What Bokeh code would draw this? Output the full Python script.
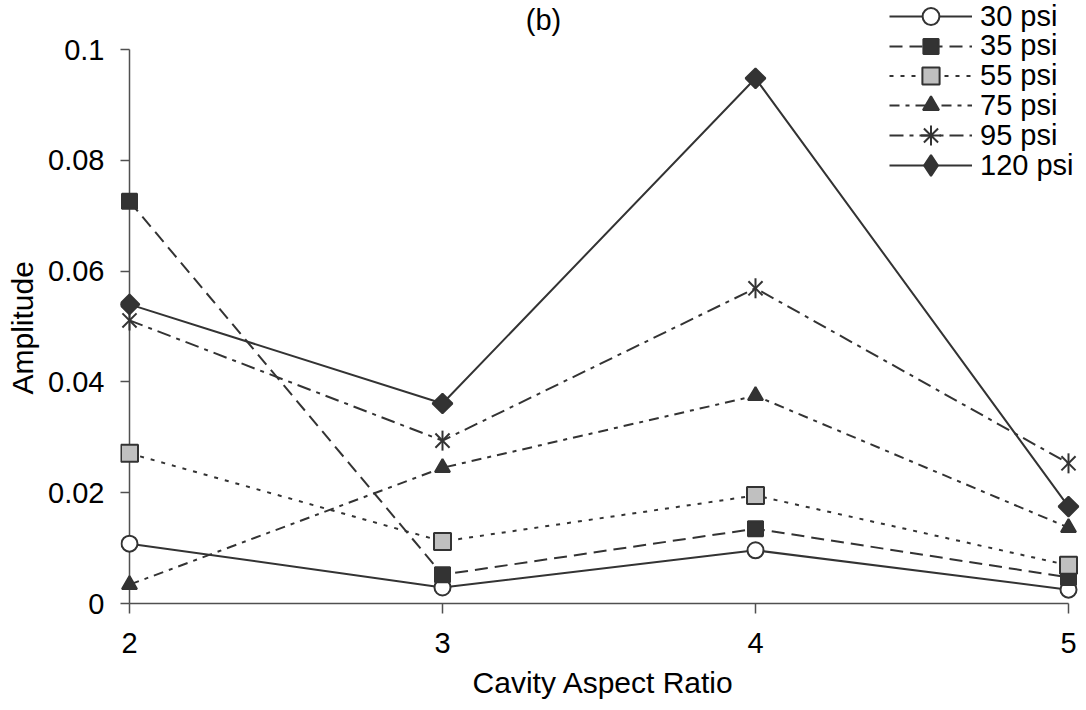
from bokeh.plotting import figure
from bokeh.models import (Range1d, FixedTicker, CustomJSTickFormatter, Legend, LegendItem,
                          Label, ColumnDataSource)
from bokeh.embed import file_html
from bokeh.resources import INLINE
import math

aspect_ratio = [2, 3, 4, 5]
psi_30 = [0.0108, 0.0029, 0.0096, 0.0025]
psi_35 = [0.0726, 0.0052, 0.0135, 0.0047]
psi_55 = [0.0271, 0.0112, 0.0195, 0.0069]
psi_75 = [0.0034, 0.0245, 0.0375, 0.0137]
psi_95 = [0.0511, 0.0294, 0.0569, 0.0253]
psi_120 = [0.0540, 0.0361, 0.0948, 0.0175]
series_labels = ["30 psi", "35 psi", "55 psi", "75 psi", "95 psi", "120 psi"]
y_ticks = [0, 0.02, 0.04, 0.06, 0.08, 0.1]
x_ticks = [2, 3, 4, 5]

FONT = "Liberation Sans"
INK = "#333333"
AX = "#505050"

W, H = 1086, 710
# axes geometry (pixels): x=2 at 129, x=5 at 1068; y=0 at 603, y=0.1 at 49
AX_L, AX_R, AX_B, AX_T = 129, 1068, 603, 49
FR_L, FR_R, FR_T, FR_B = 120, 1086, 0, 613   # plotting frame (room for markers/legend)
xs = (x_ticks[-1] - x_ticks[0]) / (AX_R - AX_L)
ys = (y_ticks[-1] - y_ticks[0]) / (AX_B - AX_T)

p = figure(width=W, height=H, output_backend="svg", toolbar_location=None,
           x_range=Range1d(x_ticks[0] - (AX_L - FR_L) * xs, x_ticks[-1] + (FR_R - AX_R) * xs),
           y_range=Range1d(y_ticks[0] - (FR_B - AX_B) * ys, y_ticks[-1] + (AX_T - FR_T) * ys),
           min_border_left=FR_L, min_border_right=W - FR_R,
           min_border_top=FR_T, min_border_bottom=H - FR_B)
p.outline_line_color = None
p.grid.visible = False
p.background_fill_color = "white"
p.border_fill_color = "white"

p.xaxis.bounds = (x_ticks[0], x_ticks[-1])
p.yaxis.bounds = (y_ticks[0], y_ticks[-1])
p.xaxis.ticker = FixedTicker(ticks=x_ticks)
p.yaxis.ticker = FixedTicker(ticks=y_ticks)
p.yaxis.formatter = CustomJSTickFormatter(code="""
if (tick == 0) { return '0'; }
var s = tick.toFixed(2);
if (s.endsWith('0')) { s = s.slice(0, -1); }
return s;
""")
for ax in (p.xaxis, p.yaxis):
    ax.axis_line_color = None
    ax.major_tick_line_color = AX
    ax.major_tick_line_width = 1.5
    ax.major_tick_out = 0
    ax.minor_tick_line_color = None
    ax.major_label_text_font = FONT
    ax.major_label_text_font_size = "29px"
    ax.major_label_text_color = "black"
    ax.axis_label_text_font = FONT
    ax.axis_label_text_font_size = "30px"
    ax.axis_label_text_font_style = "normal"
    ax.axis_label_text_color = "black"
p.yaxis.major_tick_in = AX_L - FR_L
p.xaxis.major_tick_in = FR_B - AX_B
p.xaxis.major_label_standoff = 19
p.yaxis.major_label_standoff = 16
p.xaxis.axis_label = "Cavity Aspect Ratio"
# trailing no-break spaces centre the label on the 0..0.1 axis instead of the taller frame
p.yaxis.axis_label = "Amplitude" + "\u00a0" * 5
p.xaxis.axis_label_standoff = 10
p.yaxis.axis_label_standoff = 6

# axis lines at x=2 and y=0
p.segment(x0=[x_ticks[0], x_ticks[0]], y0=[y_ticks[0], y_ticks[0]],
          x1=[x_ticks[0], x_ticks[-1]], y1=[y_ticks[-1], y_ticks[0]],
          line_color=AX, line_width=1.5)

# (values, dash, marker, fill, size, angle, legend glyph height)
styles = [
    (psi_30, "solid", "circle", "white", 16, 0, 42),
    (psi_35, "13 7", "square", INK, 15, 0, 38),
    (psi_55, "4 7", "square", "#c0c0c0", 17, 0, 43),
    (psi_75, "10 6 4 6", "triangle", INK, 15, 0, 40),
    (psi_95, "14 6 4 6", "star6", None, 20, 0, 50),
    (psi_120, "solid", "diamond4", INK, 14, math.pi / 4, 52),
]

row_centers = [16 + 29.8 * i for i in range(6)]
for (vals, dash, marker, fill, size, ang, gh), lab, rc in zip(styles, series_labels, row_centers):
    src = ColumnDataSource(dict(x=aspect_ratio, y=vals))
    r_line = p.line("x", "y", source=src, line_color=INK, line_width=2, line_dash=dash)
    rs = [r_line]
    if marker == "star6":
        r1 = p.scatter("x", "y", source=src, marker="x", size=size, line_color=INK,
                       line_width=2)
        p.scatter("x", "y", source=src, marker="dash", size=size, angle=math.pi / 2,
                  line_color=INK, line_width=2)
        # legend-only glyph (not drawn in the plot)
        r_leg = p.scatter("x", "y", source=src, marker="cross", size=size, line_color=INK,
                          line_width=2, visible=False)
        rs += [r1, r_leg]
    elif marker == "diamond4":
        p.scatter("x", "y", source=src, marker="square", size=size, angle=ang,
                  fill_color=fill, line_color=INK, line_width=2)
        r_leg = p.scatter("x", "y", source=src, marker="diamond", size=size,
                          fill_color=fill, line_color=INK, line_width=2, visible=False)
        rs.append(r_leg)
    else:
        r_m = p.scatter("x", "y", source=src, marker=marker, size=size, angle=ang,
                        fill_color=fill, line_color=INK, line_width=2)
        rs.append(r_m)
    leg = Legend(items=[LegendItem(label=lab, renderers=rs)],
                 location=(889 - FR_L, FR_B - (rc + gh / 2)),
                 border_line_color=None, background_fill_alpha=0, padding=0, margin=0,
                 spacing=0, glyph_width=83, glyph_height=gh, label_height=gh,
                 label_standoff=8, label_text_font=FONT, label_text_font_size="29px",
                 label_text_color="black", inactive_fill_alpha=0)
    p.add_layout(leg, "center")

title = Label(x=543 - FR_L, y=FR_B - 19, x_units="screen", y_units="screen", text="(b)",
              text_align="center", text_baseline="middle", text_font=FONT,
              text_font_size="29px", text_color="black")
p.add_layout(title)

open("out.html", "w").write(file_html(p, INLINE))
